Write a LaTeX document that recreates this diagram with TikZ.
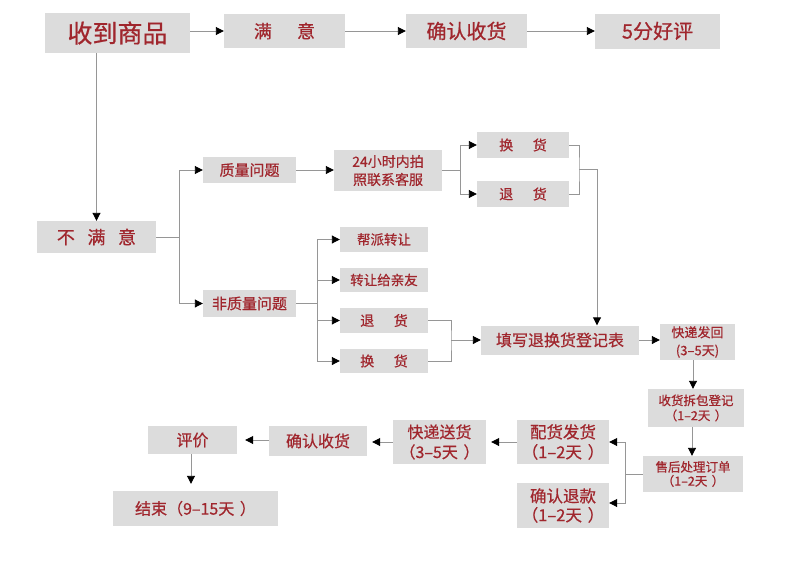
\documentclass[tikz,border=0pt]{standalone}
\usepackage{fontspec}
\newfontfamily\cjk[FakeBold=0.6]{Noto Sans CJK SC}
\usetikzlibrary{arrows.meta}
\definecolor{boxfill}{RGB}{220,220,220}
\definecolor{label}{RGB}{160,38,45}
\definecolor{wire}{RGB}{150,150,150}
\tikzset{
  pbox/.style={fill=boxfill,text=label,inner sep=0pt,align=center},
  pline/.style={wire,line width=0.9pt},
  parr/.style={pline,-{Triangle[black,length=8pt,width=8pt]}},
}
\newcommand\sz[2]{\cjk\fontsize{#1}{#2}\selectfont}
\newcommand\gap{\hspace{1.4em}}
\newcommand\rp{\hspace{.35em}）}

\begin{document}
\begin{tikzpicture}[x=1pt,y=-1pt]
  \useasboundingbox (0,0) rectangle (790,571);
  % top row
  \node[pbox,minimum width=145pt,minimum height=40pt,font=\sz{25}{28}] (get) at (117.5,33) {收到商品};
  \node[pbox,minimum width=121pt,minimum height=34pt,font=\sz{18}{20}] (ok) at (284.5,31) {满\gap 意};
  \node[pbox,minimum width=121pt,minimum height=34pt,font=\sz{20}{22}] (conf) at (466.5,31) {确认收货};
  \node[pbox,minimum width=125pt,minimum height=35pt,font=\sz{20}{22}] (five) at (657.5,31) {5分好评};
  % not satisfied
  \node[pbox,minimum width=119pt,minimum height=32pt,font=\sz{18}{20}] (bad) at (96.5,237) {不\hspace{.7em}满\hspace{.7em}意};
  \node[pbox,minimum width=93pt,minimum height=26pt,font=\sz{15}{17}] (qual) at (249.5,170) {质量问题};
  \node[pbox,minimum width=93pt,minimum height=27pt,font=\sz{15}{17}] (nonq) at (249.5,303.5) {非质量问题};
  \node[pbox,minimum width=108pt,minimum height=41pt,font=\sz{14}{18}] (photo) at (388,170.5) {24小时内拍\\照联系客服};
  \node[pbox,minimum width=92pt,minimum height=26pt,font=\sz{14}{16}] (swapA) at (523,145) {换\gap 货};
  \node[pbox,minimum width=92pt,minimum height=26pt,font=\sz{14}{16}] (backA) at (523,194) {退\gap 货};
  \node[pbox,minimum width=88pt,minimum height=25pt,font=\sz{13.5}{16}] (gang) at (384,239.5) {帮派转让};
  \node[pbox,minimum width=88pt,minimum height=24pt,font=\sz{13.5}{16}] (frnd) at (384,280) {转让给亲友};
  \node[pbox,minimum width=88pt,minimum height=25pt,font=\sz{14}{16}] (backB) at (384,320.5) {退\gap 货};
  \node[pbox,minimum width=88pt,minimum height=24pt,font=\sz{14}{16}] (swapB) at (384,361) {换\gap 货};
  % return handling
  \node[pbox,minimum width=158pt,minimum height=29pt,font=\sz{16}{18}] (form) at (560,340) {填写退换货登记表};
  \node[pbox,minimum width=75pt,minimum height=36pt,font=\sz{13}{18}] (sendbk) at (697.5,342) {快递发回\\(3–5天)};
  \node[pbox,minimum width=96pt,minimum height=38pt,font=\sz{12.5}{15}] (unpack) at (696,408) {收货拆包登记\\（1–2天\rp};
  \node[pbox,minimum width=100pt,minimum height=36pt,font=\sz{12.5}{14}] (order) at (693,474) {售后处理订单\\（1–2天\rp};
  \node[pbox,minimum width=92pt,minimum height=44pt,font=\sz{16.5}{20}] (ship) at (563,442) {配货发货\\（1–2天\rp};
  \node[pbox,minimum width=92pt,minimum height=45pt,font=\sz{16.5}{19}] (refund) at (563,505.5) {确认退款\\（1–2天\rp};
  \node[pbox,minimum width=93pt,minimum height=44pt,font=\sz{16}{20}] (deliv) at (439.5,442) {快递送货\\（3–5天\rp};
  \node[pbox,minimum width=98pt,minimum height=30pt,font=\sz{16}{18}] (confB) at (318,441) {确认收货};
  \node[pbox,minimum width=89pt,minimum height=28pt,font=\sz{16}{18}] (rate) at (192.5,440) {评价};
  \node[pbox,minimum width=165pt,minimum height=35pt,font=\sz{16}{18}] (done) at (195.5,508.5) {结束（9–15天\rp};
  % junctions
  \coordinate (jBad) at (179,237);
  \coordinate (jPh) at (460,170.5);
  \coordinate (jRet) at (579,169);
  \coordinate (jDown) at (597,0);
  \coordinate (jNon) at (317,303.5);
  \coordinate (jBS) at (451,340);
  \coordinate (jOrd) at (625,474);
  % connectors
  \draw[parr] (get.east |- ok) -- (ok.west);
  \draw[parr] (ok) -- (conf);
  \draw[parr] (conf) -- (five);
  \draw[parr] (get.south -| bad) -- (bad.north);
  \draw[pline] (bad) -- (jBad);
  \draw[parr] (jBad) |- (qual);
  \draw[parr] (jBad) |- (nonq);
  \draw[parr] (qual.east) -- (qual.east -| photo.west);
  \draw[pline] (photo.east |- jPh) -- (jPh);
  \draw[parr] (jPh) |- (swapA);
  \draw[parr] (jPh) |- (backA);
  \draw[pline] (swapA) -| (jRet) |- (backA);
  \draw[parr] (jRet) -| (jDown |- form.north);
  \draw[pline] (nonq) -- (jNon);
  \foreach \n in {gang,frnd,backB,swapB}
    \draw[parr] (jNon) |- (\n);
  \draw[pline] (backB) -| (jBS) |- (swapB);
  \draw[parr] (jBS) -- (jBS -| form.west);
  \draw[parr] (form.east) -- (form.east -| sendbk.west);
  \draw[parr] (sendbk.south -| 693,0) -- (unpack.north -| 693,0);
  \draw[parr] (unpack.south -| 692,0) -- (order.north -| 692,0);
  \draw[pline] (order) -- (jOrd);
  \draw[parr] (jOrd) |- (ship);
  \draw[parr] (jOrd) |- (refund.east |- 0,503);
  \draw[parr,shorten >=5pt] (ship) -- (deliv);
  \draw[parr,shorten >=5pt] (deliv) -- (confB.east |- deliv);
  \draw[parr,shorten >=8pt] (confB.west |- rate) -- (rate);
  \draw[parr,shorten >=7pt] (rate.south -| 191,0) -- (done.north -| 191,0);
\end{tikzpicture}
\end{document}
